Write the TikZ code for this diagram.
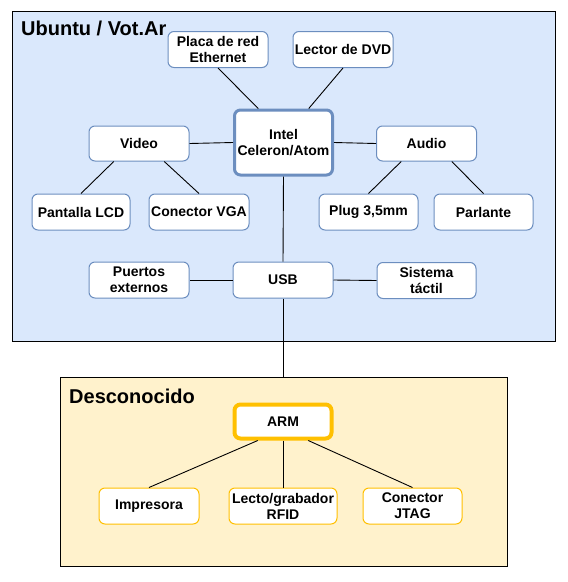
\documentclass[tikz,border=0pt]{standalone}
\usepackage{fontspec}
\setmainfont{Liberation Sans}
\usetikzlibrary{calc}
\definecolor{bluefill}{HTML}{DAE8FC}
\definecolor{blueline}{HTML}{6C8EBF}
\definecolor{yelfill}{HTML}{FFF2CC}
\definecolor{yelline}{HTML}{FFC000}
\tikzset{
  box/.style={draw=blueline, line width=1pt, fill=white, rounded corners=6pt,
    minimum width=100pt, minimum height=36pt, inner sep=0pt, align=center,
    font=\bfseries\fontsize{14}{16}\selectfont},
  ybox/.style={box, draw=yelline},
  conn/.style={draw=black, line width=0.9pt},
  container/.style={draw=black, line width=1pt},
  title/.style={anchor=base west, inner sep=0pt, font=\bfseries\fontsize{20}{24}\selectfont}
}
\begin{document}
\begin{tikzpicture}[x=1pt,y=-1pt]
\useasboundingbox (0,0) rectangle (568,582);
% containers
\draw[container, fill=bluefill] (12,11) rectangle (555.5,341.5);
\draw[container, fill=yelfill] (60,377.5) rectangle (507,566);
\node[title] (ttop) at (21,35.5) {Ubuntu / Vot.Ar};
\node[title] (tbot) at (69,403) {Desconocido};
\coordinate (cbtop) at (283,377.5);
% top nodes
\node[box] (placa) at (218,49.5) {Placa de red\\Ethernet};
\node[box] (dvd) at (343,49.5) {Lector de DVD};
\node[box, line width=3pt, minimum width=98pt, minimum height=65pt] (intel) at (283.5,142.5) {Intel\\Celeron/Atom};
\node[box, minimum height=35pt] (video) at (139,143.5) {Video};
\node[box, minimum height=35pt] (audio) at (426.5,143.5) {Audio};
\node[box, minimum width=98pt] (lcd) at (81,212) {Pantalla LCD};
\node[box] (vga) at (199,212) {Conector VGA};
\node[box, minimum width=99pt] (plug) at (368.5,212) {Plug 3,5mm};
\node[box, minimum width=99pt] (parl) at (483.5,212) {Parlante};
\node[box] (puertos) at (139,280) {Puertos\\externos};
\node[box] (usb) at (283,280) {USB};
\node[box, minimum width=99pt] (sist) at (426.5,280.5) {Sistema\\táctil};
% bottom nodes
\node[ybox, line width=4pt, minimum width=97pt, minimum height=34pt] (arm) at (283,421.5) {ARM};
\node[ybox] (impr) at (149,506) {Impresora};
\node[ybox, minimum width=108pt] (rfid) at (283,506) {Lecto/grabador\\RFID};
\node[ybox, minimum width=99pt] (jtag) at (412.5,506) {Conector\\JTAG};
% connectors
\draw[conn] (placa.south) -- ($(intel.north west)!0.25!(intel.north east)$);
\draw[conn] (dvd.south) -- ($(intel.north west)!0.75!(intel.north east)$);
\draw[conn] (intel.west) -- (video.east);
\draw[conn] (intel.east) -- (audio.west);
\draw[conn] ($(video.south west)!0.25!(video.south east)$) -- (lcd.north);
\draw[conn] ($(video.south west)!0.75!(video.south east)$) -- (vga.north);
\draw[conn] ($(audio.south west)!0.25!(audio.south east)$) -- (plug.north);
\draw[conn] ($(audio.south west)!0.75!(audio.south east)$) -- (parl.north);
\draw[conn] (intel.south) -- (usb.north);
\draw[conn] (usb.west) -- (puertos.east);
\draw[conn] (usb.east) -- (sist.west);
\draw[conn] (usb.south) -- (cbtop);
\draw[conn] ($(arm.south west)!0.25!(arm.south east)$) -- (impr.north);
\draw[conn] (arm.south) -- (rfid.north);
\draw[conn] ($(arm.south west)!0.75!(arm.south east)$) -- (jtag.north);
\end{tikzpicture}
\end{document}
